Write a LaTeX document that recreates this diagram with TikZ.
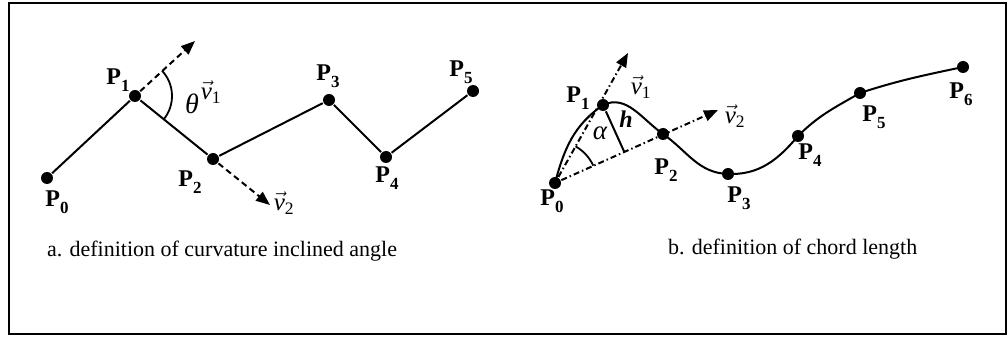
\documentclass[tikz,border=0pt]{standalone}
\usepackage{fontspec}
\setmainfont{Liberation Serif}
\usetikzlibrary{arrows.meta,calc}
\newcommand\Pt[1]{{\bfseries P\raisebox{-0.3em}{\fontsize{17}{17}\selectfont\bfseries #1}}}
\newcommand\vv[1]{$\vec{\mathit{v}}_{\mathrm{#1}}$}
\begin{document}
\begin{tikzpicture}[x=1pt,y=1pt,line width=2pt,
  dot/.style={circle,fill,inner sep=0pt,minimum size=12pt},
  lbl/.style={inner sep=0pt,font=\fontsize{24}{26}\selectfont},
  vlbl/.style={inner sep=0pt,font=\fontsize{25}{27}\selectfont},
  captext/.style={inner sep=0pt,anchor=base west,font=\fontsize{22}{24}\selectfont},
  dasharrow/.style={dash pattern=on 6pt off 4pt,-{Triangle[length=14pt,width=11pt]}},
  ddarrow/.style={dash pattern=on 6pt off 3pt on 1.5pt off 3pt,-{Triangle[length=14pt,width=11pt]}}]
\useasboundingbox (0,0) rectangle (1008,337);
\draw[line width=1.6pt] (9,3) rectangle (1006,334);
% left diagram
\node[dot] (a0) at (47,159) {};
\node[dot] (a1) at (135,241) {};
\node[dot] (a2) at (213,178) {};
\node[dot] (a3) at (329,237) {};
\node[dot] (a4) at (386,180) {};
\node[dot] (a5) at (473,246) {};
\draw (a0) -- (a1) -- (a2) -- (a3) -- (a4) -- (a5);
\node[lbl] (la0) at (57,135) {\Pt{0}};
\node[lbl] (la1) at (118,257) {\Pt{1}};
\node[lbl] (la2) at (190,155) {\Pt{2}};
\node[lbl] (la3) at (328,261) {\Pt{3}};
\node[lbl] (la4) at (387,159) {\Pt{4}};
\node[lbl] (la5) at (461,265) {\Pt{5}};
\coordinate (v1tipa) at (195,296);
\coordinate (v2tipa) at (270,132);
\draw[dasharrow] (a1) -- (v1tipa);
\draw[dasharrow] (a2) -- (v2tipa);
\draw[line width=1.8pt] ([shift={(-39:37)}]a1.center) arc[start angle=-39,end angle=43,radius=37];
\node[inner sep=0pt,font=\fontsize{28}{30}\selectfont] (tha) at (192,233) {\itshape θ};
\node[vlbl] (lv1a) at (211,245) {\vv{1}};
\node[vlbl] (lv2a) at (284,134) {\vv{2}};
\node[captext] (capa) at (46,80) {a. definition of curvature inclined angle};
% right diagram
\node[dot] (b0) at (555,154) {};
\node[dot] (b1) at (603,232) {};
\node[dot] (b2) at (663,203) {};
\node[dot] (b3) at (728,163) {};
\node[dot] (b4) at (798,201) {};
\node[dot] (b5) at (860,244) {};
\node[dot] (b6) at (963,270) {};
\draw (b0.center) to[out=75,in=215] (b1.center)
      to[out=25,in=145] (b2.center)
      to[out=-35,in=178] (b3.center)
      to[out=-2,in=230] (b4.center)
      to[out=45,in=210] (b5.center)
      to[out=18,in=192] (b6.center);
\node[lbl] (lb0) at (552,136) {\Pt{0}};
\node[lbl] (lb1) at (578,239) {\Pt{1}};
\node[lbl] (lb2) at (666,167) {\Pt{2}};
\node[lbl] (lb3) at (739,139) {\Pt{3}};
\node[lbl] (lb4) at (810,182) {\Pt{4}};
\node[lbl] (lb5) at (874,220) {\Pt{5}};
\node[lbl] (lb6) at (961,243) {\Pt{6}};
\coordinate (v1tipb) at (628,284);
\coordinate (v2tipb) at (718,227);
\draw[ddarrow] (b0) -- (v1tipb);
\draw[ddarrow] (b0) -- (v2tipb);
\coordinate (hf) at ($(b0.center)!(b1.center)!(b2.center)$);
\draw (b1) -- (hf);
\draw[line width=1.8pt] ([shift={(24.4:42)}]b0.center) arc[start angle=24.4,end angle=60.7,radius=42];
\node[inner sep=0pt,font=\fontsize{27}{29}\selectfont] (lal) at (600,204) {\itshape α};
\node[lbl] (lh) at (626,218) {\bfseries\itshape h};
\node[vlbl] (lv1b) at (641,250) {\vv{1}};
\node[vlbl] (lv2b) at (735,221) {\vv{2}};
\node[captext] (capb) at (667,82) {b. definition of chord length};
\end{tikzpicture}
\end{document}
